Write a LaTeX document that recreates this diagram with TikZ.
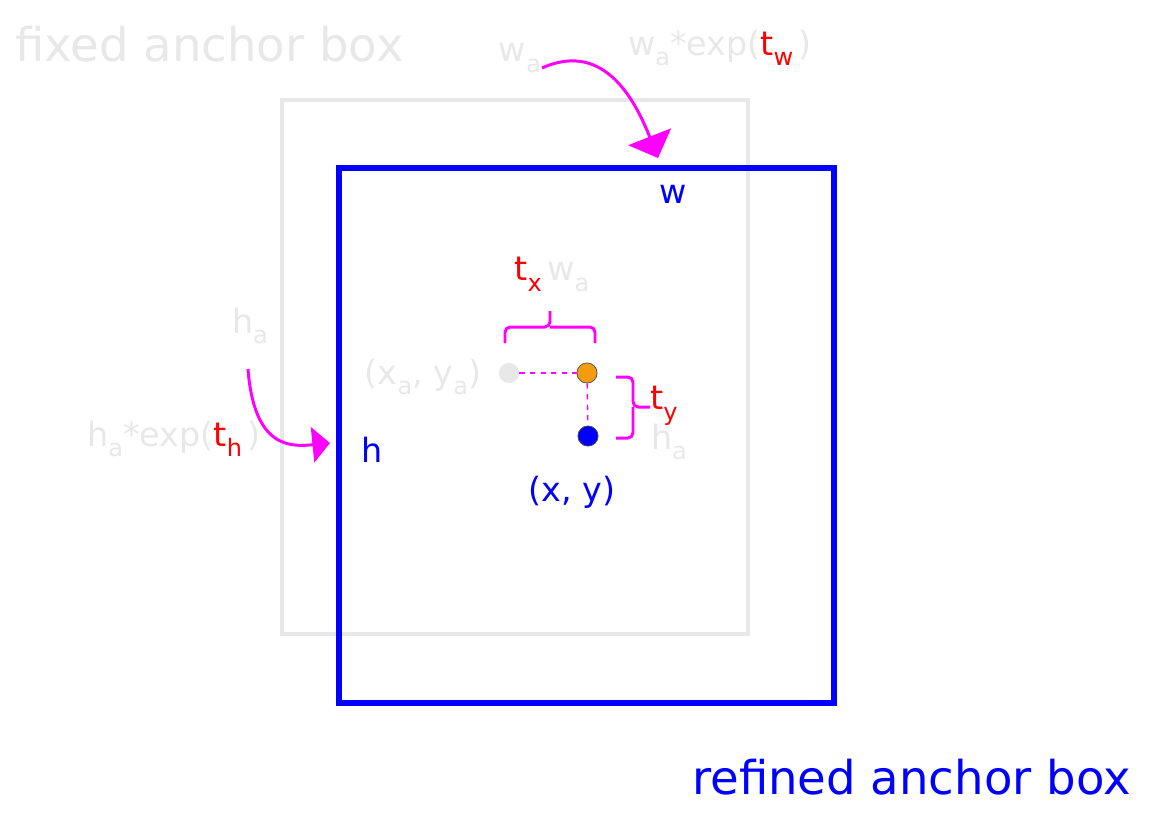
\documentclass[tikz,border=0pt]{standalone}
\usepackage{fontspec}
\setmainfont{DejaVu Sans}
\usepackage{graphicx}
\usetikzlibrary{arrows.meta}
\definecolor{lightgr}{HTML}{E8E8E8}
\definecolor{boxblue}{HTML}{0000FF}
\definecolor{pink}{HTML}{FF00FF}
\definecolor{dotorange}{HTML}{F39C12}
\newcommand{\lowsub}[1]{\raisebox{-0.6ex}{\scalebox{0.72}{#1}}}
\newcommand{\tred}[1]{\textcolor{red}{t\lowsub{#1}}}
\tikzset{
  lbl/.style={inner sep=0pt, font=\fontsize{19}{22}\selectfont},
  big/.style={inner sep=0pt, font=\fontsize{26.5}{31}\selectfont},
  dot/.style={circle, inner sep=0pt, minimum size=11.5pt, draw=black!70, line width=0.4pt},
  curvearrow/.style={draw=pink, line width=1.7pt},
}
\begin{document}
\begin{tikzpicture}[x=0.02cm, y=-0.02cm]
\useasboundingbox (0,0) rectangle (1150,816);
% boxes
\draw[lightgr, line width=2.8pt] (282,100) rectangle (748,634);
\draw[boxblue, line width=3.4pt] (339,168) rectangle (834,703);

\node[big, text=lightgr, anchor=west] (fixed) at (15,44) {fixed anchor box};
\node[big, text=boxblue, anchor=east] (refined) at (1131,777) {refined anchor box};

% width
\node[lbl, text=lightgr] (wa) at (520,58) {w\lowsub{a}};
\node[lbl, text=lightgr] (waexp) at (720,48) {w\lowsub{a}*exp(\tred{w}\,)};
\node[lbl, text=boxblue] (w) at (673,194) {w};
\coordinate (wstart) at (542,68);
\coordinate (wend) at (658,158);
\draw[curvearrow, -{Triangle[length=13pt, width=26pt]}] (wstart) .. controls (600,42) and (632,92) .. (wend);

% height
\node[lbl, text=lightgr] (ha) at (250,326) {h\lowsub{a}};
\node[lbl, text=lightgr] (haexp) at (174,439) {h\lowsub{a}*exp(\tred{h}\,)};
\node[lbl, text=boxblue] (h) at (372,450) {h};
\coordinate (hstart) at (248,369);
\coordinate (hend) at (330,443);
\draw[curvearrow, -{Triangle[length=10pt, width=20pt]}] (hstart) .. controls (254,448) and (290,447) .. (hend);

% centres
\node[dot, draw=none, fill=lightgr] (ca) at (509,373) {};
\node[dot, fill=dotorange] (cx) at (587,373) {};
\node[dot, fill=boxblue] (c) at (588,436) {};
\draw[pink, dashed, line width=0.8pt] (ca) -- (cx);
\draw[pink, dashed, line width=0.8pt] (cx) -- (c);
\node[lbl, text=lightgr] (xaya) at (423,377) {(x\lowsub{a}, y\lowsub{a})};
\node[lbl, text=boxblue] (xy) at (572,492) {(x, y)};

% offsets
\node[lbl] (txwa) at (552,274) {\tred{x}\,\textcolor{lightgr}{w\lowsub{a}}};
\draw[pink, line width=1.7pt, rounded corners=3pt] (505,343) |- (550,327) -- (550,311);
\draw[pink, line width=1.7pt, rounded corners=3pt] (595,343) |- (550,327);
\node[lbl] (ty) at (664,406) {\tred{y}};
\node[lbl, text=lightgr] (hab) at (669,442) {h\lowsub{a}};
\draw[pink, line width=1.7pt, rounded corners=3pt] (616,377) -| (633,407) -- (650,407);
\draw[pink, line width=1.7pt, rounded corners=3pt] (616,438) -| (633,407);
\end{tikzpicture}
\end{document}
